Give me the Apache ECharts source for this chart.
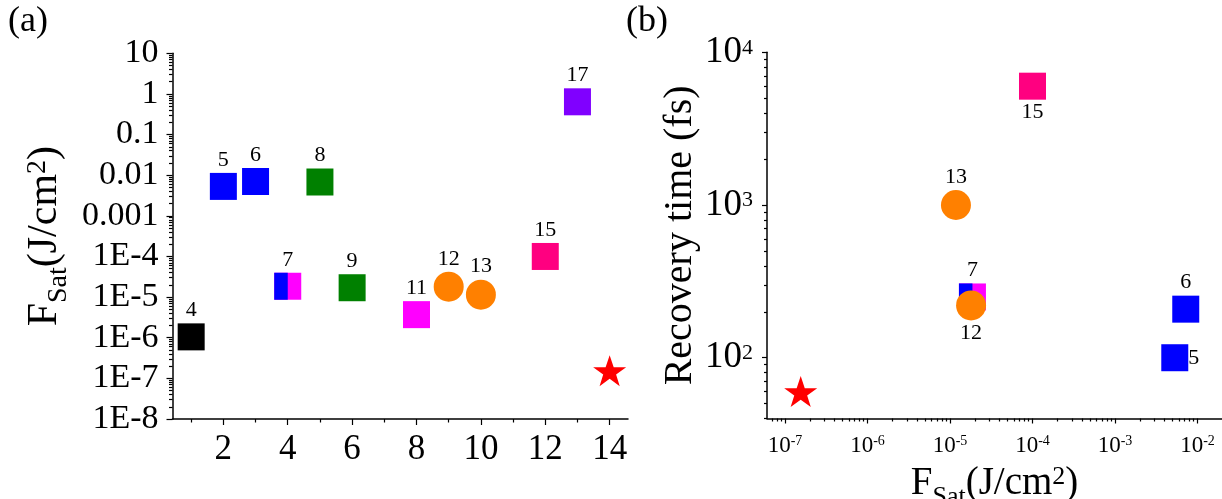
<!DOCTYPE html>
<html><head><meta charset="utf-8">
<script src="https://cdn.jsdelivr.net/npm/echarts@6/dist/echarts.min.js"></script>
<style>html,body{margin:0;padding:0;background:#fff}#c{width:1222px;height:499px}</style>
</head><body><div id="c"></div><script>
// ---------- Panel (a): saturation fluence per reference ----------
const refA   = ['4', '5', '6', '7', '8', '9', '11', '12', '13', '15', '17', 'this'];
const xA     = [1, 2, 3, 4, 5, 6, 8, 9, 10, 12, 13, 14];
const fsatA  = [1.05e-6, 5.3e-3, 7.0e-3, 1.85e-5, 6.8e-3, 1.7e-5, 3.7e-6, 1.8e-5, 1.15e-5, 1.0e-4, 0.64, 1.55e-7];
const xTicksA = [2, 4, 6, 8, 10, 12, 14];
const xMinorA = [1, 3, 5, 7, 9, 11, 13];
const yTicksA = [1e-8, 1e-7, 1e-6, 1e-5, 1e-4, 1e-3, 0.01, 0.1, 1, 10];
const yTickLabelsA = ['1E-8', '1E-7', '1E-6', '1E-5', '1E-4', '0.001', '0.01', '0.1', '1', '10'];

// ---------- Panel (b): recovery time vs saturation fluence ----------
const refB   = ['15', '13', '7', '12', '6', '5', 'this'];
const fsatB  = [1.0e-4, 1.18e-5, 1.87e-5, 1.8e-5, 7.2e-3, 5.3e-3, 1.55e-7];
const timeB  = [6000, 1000, 250, 220, 208, 100, 60];
const xTicksB = [1e-7, 1e-6, 1e-5, 1e-4, 1e-3, 1e-2];
const xTickExpB = ['-7', '-6', '-5', '-4', '-3', '-2'];
const yTicksB = [100, 1000, 10000];
const yTickExpB = ['2', '3', '4'];

// ---------- styles ----------
const FONT = 'Liberation Serif';
const STYLE = {
  '4':  {shape: 'rect', color: '#000000'},
  '5':  {shape: 'rect', color: '#0000FF'},
  '6':  {shape: 'rect', color: '#0000FF'},
  '7':  {shape: 'split', color: '#FF00FF', color2: '#0000FF'},
  '8':  {shape: 'rect', color: '#008000'},
  '9':  {shape: 'rect', color: '#008000'},
  '11': {shape: 'rect', color: '#FF00FF'},
  '12': {shape: 'circle', color: '#FF8000'},
  '13': {shape: 'circle', color: '#FF8000'},
  '15': {shape: 'rect', color: '#FF0080'},
  '17': {shape: 'rect', color: '#8000FF'},
  'this': {shape: 'star', color: '#FF0000'}
};
const labelPosB = {'15': 'bottom', '13': 'top', '7': 'top', '12': 'bottom', '6': 'top', '5': 'right'};
const STAR = 'path://M50,0 L61.8,35.1 L98.1,35.1 L68.8,56.7 L79.4,90.5 L50,69.1 L20.6,90.5 L31.2,56.7 L1.9,35.1 L38.2,35.1 Z';
const SQ = 27, CIR = 30;

function pointSeries(ref, pt, xi, yi, pos) {
  const st = STYLE[ref];
  const showLabel = ref !== 'this';
  const label = {
    show: showLabel, position: pos || 'top', distance: pos === 'right' ? 0 : 2,
    formatter: ref, fontFamily: FONT, fontSize: 22, color: '#000', opacity: 1
  };
  const base = {type: 'scatter', xAxisIndex: xi, yAxisIndex: yi, data: [pt], silent: true,
    emphasis: {disabled: true}};
  const item = c => ({color: c, opacity: 1});
  const out = [];
  if (st.shape === 'star') {
    out.push(Object.assign({}, base, {symbol: STAR, symbolSize: [33, 31], z: 4,
      itemStyle: item(st.color), label: {show: false}}));
  } else if (st.shape === 'circle') {
    out.push(Object.assign({}, base, {symbol: 'circle', symbolSize: CIR, z: 4,
      itemStyle: item(st.color), label}));
  } else if (st.shape === 'split') {
    out.push(Object.assign({}, base, {symbol: 'rect', symbolSize: SQ, z: 2,
      itemStyle: item(st.color), label}));
    out.push(Object.assign({}, base, {symbol: 'rect', symbolSize: [SQ / 2, SQ], symbolOffset: [-SQ / 4, 0], z: 3,
      itemStyle: item(st.color2), label: {show: false}}));
  } else {
    out.push(Object.assign({}, base, {symbol: 'rect', symbolSize: SQ, z: 2,
      itemStyle: item(st.color), label}));
  }
  return out;
}

function logMinor(lo, hi) {
  const v = [];
  for (let e = lo; e < hi; e++) for (let k = 2; k <= 9; k++) v.push(+(k * Math.pow(10, e)).toPrecision(3));
  return v;
}
function idxOf(ticks, v) {
  return ticks.findIndex(t => Math.abs(Math.log10(t) - Math.log10(v)) < 1e-6);
}

const series = [];
refA.forEach((r, i) => series.push(...pointSeries(r, [xA[i], fsatA[i]], 0, 0, 'top')));
refB.forEach((r, i) => series.push(...pointSeries(r, [fsatB[i], timeB[i]], 2, 2, labelPosB[r])));

const line = {onZero: false, lineStyle: {color: '#000', width: 1.5}};
const tickStyle = {color: '#000', width: 1.2};
const hiddenLine = {show: false, onZero: false};
function titleRich(fs) {
  const ss = Math.round(fs * 0.66);
  return {
    f: {fontFamily: FONT, fontSize: fs, lineHeight: fs, verticalAlign: 'top', color: '#000'},
    sub: {fontFamily: FONT, fontSize: ss, lineHeight: ss, padding: [Math.round(fs * 0.5), 0, 0, 0], verticalAlign: 'top', color: '#000'},
    sup: {fontFamily: FONT, fontSize: ss, lineHeight: ss, verticalAlign: 'top', color: '#000'}
  };
}
const FSAT_NAME = '{f|F}{sub|Sat}{f|(J/cm}{sup|2}{f|)}';

const option = {
  animation: false,
  backgroundColor: '#fff',
  grid: [
    {left: 172.5, top: 53.3, right: 594, bottom: 80, containLabel: false, outerBoundsMode: 'none'},
    {left: 767, top: 52.3, right: 0, bottom: 80.5, containLabel: false, outerBoundsMode: 'none'}
  ],
  xAxis: [
    {gridIndex: 0, type: 'value', min: 0.42, max: 14.57, position: 'bottom',
     axisLine: line, splitLine: {show: false},
     axisTick: {customValues: xTicksA, length: 6, lineStyle: tickStyle},
     axisLabel: {customValues: xTicksA, fontFamily: FONT, fontSize: 35, color: '#000', margin: 13}},
    {gridIndex: 0, type: 'value', min: 0.42, max: 14.57, position: 'bottom',
     axisLine: hiddenLine, splitLine: {show: false}, axisLabel: {show: false},
     axisTick: {customValues: xMinorA, length: 3.5, lineStyle: tickStyle}},
    {gridIndex: 1, type: 'log', logBase: 10, min: 6.05e-8, max: 0.0198, position: 'bottom',
     axisLine: line, splitLine: {show: false},
     axisTick: {customValues: xTicksB, length: 5, lineStyle: tickStyle},
     axisLabel: {customValues: xTicksB, margin: 16,
       formatter: v => { const i = idxOf(xTicksB, v); return i < 0 ? '' : '{b|10}{s|' + xTickExpB[i] + '}'; },
       rich: {
         b: {fontFamily: FONT, fontSize: 23, lineHeight: 23, verticalAlign: 'bottom', color: '#000'},
         s: {fontFamily: FONT, fontSize: 14, lineHeight: 14, padding: [0, 0, 11, 0], verticalAlign: 'top', color: '#000'}
       }},
     name: FSAT_NAME, nameLocation: 'middle', nameGap: 38,
     nameTextStyle: {rich: titleRich(39)}},
    {gridIndex: 1, type: 'log', logBase: 10, min: 6.05e-8, max: 0.0198, position: 'bottom',
     axisLine: hiddenLine, splitLine: {show: false}, axisLabel: {show: false},
     axisTick: {customValues: logMinor(-8, -1), length: 3, lineStyle: tickStyle}}
  ],
  yAxis: [
    {gridIndex: 0, type: 'log', logBase: 10, min: 1e-8, max: 10, position: 'left',
     axisLine: line, splitLine: {show: false},
     axisTick: {customValues: yTicksA, length: 6, lineStyle: tickStyle},
     axisLabel: {customValues: yTicksA, fontFamily: FONT, fontSize: 34, color: '#000', margin: 14,
       formatter: v => { const i = idxOf(yTicksA, v); return i < 0 ? '' : yTickLabelsA[i]; }},
     name: FSAT_NAME, nameLocation: 'middle', nameGap: 107, nameRotate: 90,
     nameTextStyle: {rich: titleRich(42)}},
    {gridIndex: 0, type: 'log', logBase: 10, min: 1e-8, max: 10, position: 'left',
     axisLine: hiddenLine, splitLine: {show: false}, axisLabel: {show: false},
     axisTick: {customValues: logMinor(-8, 1), length: 3.5, lineStyle: tickStyle}},
    {gridIndex: 1, type: 'log', logBase: 10, min: 40, max: 10000, position: 'left',
     axisLine: line, splitLine: {show: false},
     axisTick: {customValues: yTicksB, length: 5, lineStyle: tickStyle},
     axisLabel: {customValues: yTicksB, margin: 14,
       formatter: v => { const i = idxOf(yTicksB, v); return i < 0 ? '' : '{b|10}{s|' + yTickExpB[i] + '}'; },
       rich: {
         b: {fontFamily: FONT, fontSize: 37, lineHeight: 37, padding: [7, 0, 0, 0], verticalAlign: 'bottom', color: '#000'},
         s: {fontFamily: FONT, fontSize: 22, lineHeight: 22, padding: [3, 0, 0, 0], verticalAlign: 'top', color: '#000'}
       }},
     name: 'Recovery time (fs)', nameLocation: 'middle', nameGap: 67, nameRotate: 90,
     nameTextStyle: {fontFamily: FONT, fontSize: 40, color: '#000'}},
    {gridIndex: 1, type: 'log', logBase: 10, min: 40, max: 10000, position: 'left',
     axisLine: hiddenLine, splitLine: {show: false}, axisLabel: {show: false},
     axisTick: {customValues: logMinor(1, 4), length: 3, lineStyle: tickStyle}}
  ],
  graphic: [
    {type: 'text', left: 8, top: 4, style: {text: '(a)', fontFamily: FONT, fontSize: 36, fill: '#000'}},
    {type: 'text', left: 626, top: 4, style: {text: '(b)', fontFamily: FONT, fontSize: 36, fill: '#000'}}
  ],
  series
};

const chart = echarts.init(document.getElementById('c'), null, {renderer: 'canvas'});
chart.setOption(option);
</script></body></html>
